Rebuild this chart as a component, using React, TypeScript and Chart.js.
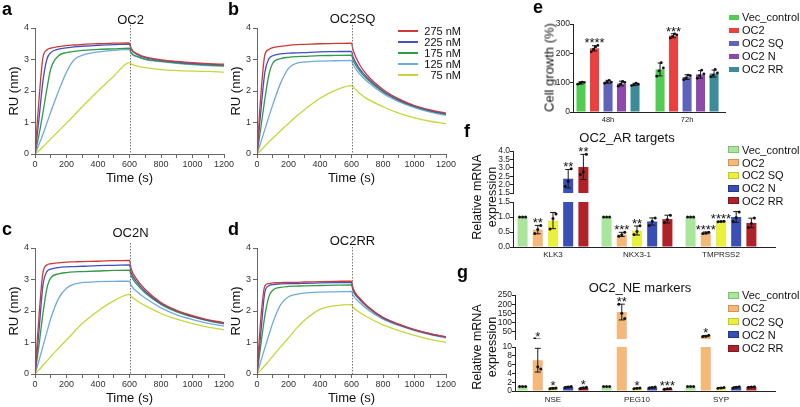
import React, { useEffect, useRef } from 'react';
import { Chart, registerables } from 'chart.js';

Chart.register(...registerables);

const SANS = "'Liberation Sans', Arial, Helvetica, sans-serif";
const NARROW = "'Liberation Sans Narrow', 'Liberation Sans', Arial, sans-serif";
Chart.defaults.font.family = SANS;
Chart.defaults.color = '#222';

// ================= a–d : SPR sensorgrams =================
const sprTimes = [0, 25, 50, 75, 100, 150, 200, 250, 300, 400, 500, 600, 610, 650, 700, 800, 900, 1000, 1100, 1200];
const sprConcs = ['275 nM', '225 nM', '175 nM', '125 nM', '75 nM'];
const sprColors = ['#cf3a36', '#4150c4', '#2f9b46', '#72a9de', '#c6d63c'];
const sprTitles = ['OC2', 'OC2SQ', 'OC2N', 'OC2RR'];
const sprXLabelled = [0, 200, 400, 600, 800, 1000, 1200];
const sprYTicks = [0, 1, 2, 3, 4];
const sprInjectionEnd = 600;

const oc2_275 = [0, 1.7, 3.05, 3.3, 3.36, 3.41, 3.44, 3.46, 3.48, 3.5, 3.52, 3.53, 3.36, 3.18, 3.08, 2.99, 2.94, 2.9, 2.87, 2.85];
const oc2_225 = [0, 1.1, 2.3, 3.0, 3.22, 3.33, 3.37, 3.4, 3.42, 3.45, 3.47, 3.49, 3.33, 3.16, 3.06, 2.97, 2.92, 2.88, 2.85, 2.83];
const oc2_175 = [0, 0.6, 1.3, 2.05, 2.7, 3.12, 3.22, 3.26, 3.29, 3.32, 3.34, 3.36, 3.22, 3.1, 3.01, 2.94, 2.89, 2.85, 2.82, 2.8];
const oc2_125 = [0, 0.3, 0.62, 0.98, 1.33, 2.0, 2.6, 3.0, 3.13, 3.24, 3.29, 3.32, 3.2, 3.08, 3.0, 2.93, 2.88, 2.84, 2.81, 2.79];
const oc2_75 = [0, 0.1, 0.22, 0.35, 0.48, 0.73, 0.98, 1.24, 1.5, 2.0, 2.47, 2.9, 2.86, 2.79, 2.74, 2.68, 2.65, 2.63, 2.62, 2.6];

const sq_275 = [0, 1.9, 3.15, 3.32, 3.38, 3.42, 3.45, 3.47, 3.48, 3.5, 3.51, 3.52, 3.3, 2.85, 2.5, 2.05, 1.75, 1.54, 1.4, 1.3];
const sq_225 = [0, 1.4, 2.6, 3.02, 3.12, 3.18, 3.2, 3.21, 3.22, 3.24, 3.25, 3.26, 3.08, 2.72, 2.42, 2.0, 1.72, 1.52, 1.38, 1.28];
const sq_175 = [0, 0.85, 1.75, 2.5, 2.88, 3.03, 3.07, 3.09, 3.1, 3.12, 3.13, 3.14, 2.98, 2.65, 2.37, 1.97, 1.7, 1.5, 1.36, 1.26];
const sq_125 = [0, 0.38, 0.78, 1.18, 1.56, 2.25, 2.72, 2.88, 2.92, 2.95, 2.96, 2.97, 2.84, 2.55, 2.3, 1.92, 1.66, 1.47, 1.33, 1.23];
const sq_75 = [0, 0.12, 0.25, 0.38, 0.5, 0.74, 0.97, 1.2, 1.4, 1.77, 2.03, 2.17, 2.13, 1.93, 1.75, 1.5, 1.3, 1.15, 1.04, 0.96];

const n_275 = [0, 1.8, 3.2, 3.46, 3.5, 3.53, 3.55, 3.56, 3.57, 3.58, 3.6, 3.61, 3.35, 2.98, 2.68, 2.27, 2.02, 1.85, 1.72, 1.63];
const n_225 = [0, 1.35, 2.8, 3.25, 3.33, 3.38, 3.4, 3.41, 3.42, 3.44, 3.45, 3.46, 3.23, 2.9, 2.62, 2.24, 2.0, 1.83, 1.7, 1.61];
const n_175 = [0, 0.9, 1.9, 2.7, 3.05, 3.18, 3.22, 3.24, 3.25, 3.27, 3.29, 3.3, 3.12, 2.83, 2.57, 2.21, 1.97, 1.81, 1.69, 1.59];
const n_125 = [0, 0.42, 0.87, 1.32, 1.76, 2.4, 2.72, 2.85, 2.9, 2.93, 2.94, 2.95, 2.82, 2.6, 2.41, 2.1, 1.88, 1.73, 1.61, 1.52];
const n_75 = [0, 0.13, 0.27, 0.41, 0.55, 0.82, 1.08, 1.35, 1.6, 2.0, 2.32, 2.53, 2.47, 2.32, 2.17, 1.92, 1.74, 1.6, 1.49, 1.4];

const rr_275 = [0, 1.8, 2.8, 2.87, 2.89, 2.9, 2.91, 2.91, 2.92, 2.93, 2.94, 2.95, 2.72, 2.42, 2.16, 1.8, 1.58, 1.41, 1.28, 1.18];
const rr_225 = [0, 1.35, 2.6, 2.8, 2.84, 2.86, 2.87, 2.87, 2.88, 2.89, 2.9, 2.91, 2.68, 2.39, 2.14, 1.78, 1.57, 1.4, 1.27, 1.17];
const rr_175 = [0, 0.95, 1.85, 2.45, 2.66, 2.75, 2.78, 2.79, 2.8, 2.81, 2.82, 2.83, 2.64, 2.37, 2.13, 1.78, 1.57, 1.4, 1.27, 1.17];
const rr_125 = [0, 0.42, 0.83, 1.23, 1.62, 2.2, 2.45, 2.53, 2.57, 2.6, 2.61, 2.62, 2.5, 2.28, 2.06, 1.74, 1.54, 1.38, 1.25, 1.15];
const rr_75 = [0, 0.13, 0.27, 0.41, 0.56, 0.86, 1.15, 1.45, 1.7, 2.05, 2.17, 2.2, 2.12, 1.96, 1.81, 1.56, 1.38, 1.23, 1.1, 1.0];

const sprPanels = [
  [oc2_275, oc2_225, oc2_175, oc2_125, oc2_75],
  [sq_275, sq_225, sq_175, sq_125, sq_75],
  [n_275, n_225, n_175, n_125, n_75],
  [rr_275, rr_225, rr_175, rr_125, rr_75],
];

// ================= e : cell growth =================
const growthGroups = ['48h', '72h'];
const growthSeries = ['Vec_control', 'OC2', 'OC2 SQ', 'OC2 N', 'OC2 RR'];
const growthColors = ['#52cc52', '#e8413f', '#5d62bb', '#8e4aa8', '#3b8c97'];
const growthMeans = [[99, 145], [217, 260], [103, 119], [97, 128], [94, 131]];
const growthSD = [[4, 22], [9, 7], [5, 8], [8, 13], [4, 12]];
const growthReps = [
  [[95, 98, 102, 101], [122, 140, 168, 150]],
  [[205, 214, 222, 227], [252, 258, 266, 263]],
  [[98, 103, 108, 102], [110, 116, 126, 124]],
  [[88, 95, 104, 101], [115, 124, 143, 130]],
  [[90, 93, 98, 95], [120, 126, 145, 133]],
];
const growthSig = [['', ''], ['****', '***'], ['', ''], ['', ''], ['', '']];
const growthYTicks = [0, 100, 200, 300];

// ================= f : AR targets =================
const arTargets = ['KLK3', 'NKX3-1', 'TMPRSS2'];
const barSeries = ['Vec_control', 'OC2', 'OC2 SQ', 'OC2 N', 'OC2 RR'];
const barColors = ['#a9e59a', '#f4b878', '#e9f03e', '#3a4fb5', '#b0222a'];
const barBorders = ['#7fc06e', '#d8924c', '#c2c928', '#27378a', '#86161c'];
const arMeans = [[1, 1, 1], [0.58, 0.42, 0.47], [0.88, 0.55, 0.85], [2.35, 0.85, 1.0], [3.05, 0.93, 0.8]];
const arSD = [[0, 0, 0], [0.14, 0.07, 0.03], [0.27, 0.15, 0.01], [0.55, 0.12, 0.18], [0.75, 0.13, 0.16]];
const arReps = [
  [[1, 1, 1], [1, 1, 1], [1, 1, 1]],
  [[0.45, 0.58, 0.72], [0.36, 0.41, 0.49], [0.45, 0.47, 0.49]],
  [[0.6, 0.95, 1.1], [0.42, 0.52, 0.71], [0.84, 0.85, 0.86]],
  [[1.9, 2.2, 2.95], [0.72, 0.86, 0.97], [0.85, 0.98, 1.17]],
  [[2.6, 2.75, 3.8], [0.82, 0.92, 1.06], [0.65, 0.78, 0.97]],
];
const arSig = [['', '', ''], ['**', '***', '****'], ['', '**', '****'], ['**', '', ''], ['**', '', '']];
const arUpperTicks = [1.5, 2.0, 2.5, 3.0, 3.5, 4.0];
const arLowerTicks = [0, 0.5, 1.0, 1.5];

// ================= g : NE markers =================
const neMarkers = ['NSE', 'PEG10', 'SYP'];
const neMeans = [[1, 1, 1], [7.0, 157, 26], [0.6, 0.6, 0.7], [0.9, 0.8, 0.85], [0.7, 0.5, 0.9]];
const neSD = [[0, 0, 0], [2.7, 43, 3.5], [0.15, 0.1, 0.1], [0.15, 0.1, 0.12], [0.15, 0.08, 0.05]];
const neReps = [
  [[1, 1, 1], [1, 1, 1], [1, 1, 1]],
  [[11.5, 5.5, 5.0], [200, 150, 122], [23, 25, 30]],
  [[0.5, 0.6, 0.7], [0.5, 0.6, 0.7], [0.6, 0.7, 0.8]],
  [[0.8, 0.9, 1.05], [0.7, 0.8, 0.9], [0.7, 0.85, 0.95]],
  [[0.55, 0.7, 0.85], [0.42, 0.5, 0.57], [0.85, 0.9, 0.95]],
];
const neSig = [['', '', ''], ['*', '**', '*'], ['*', '*', ''], ['', '', ''], ['*', '***', '']];
const neUpperTicks = [50, 100, 150, 200, 250];
const neLowerTicks = [0, 2, 4, 6, 8, 10];

// ================= plugins =================
const sprDecor = (title: string, titleOff: number, lineOff: number) => ({
  id: 'sprDecor',
  afterDatasetsDraw(chart: any) {
    const { ctx, chartArea: a } = chart;
    const px = Math.round(chart.scales.x.getPixelForValue(sprInjectionEnd)) + 0.5;
    ctx.save();
    ctx.strokeStyle = '#777';
    ctx.lineWidth = 1;
    ctx.setLineDash([1.5, 1.5]);
    ctx.beginPath();
    ctx.moveTo(px, a.top - lineOff);
    ctx.lineTo(px, a.bottom);
    ctx.stroke();
    ctx.setLineDash([]);
    ctx.fillStyle = '#111';
    ctx.font = `13px ${SANS}`;
    ctx.textAlign = 'center';
    ctx.textBaseline = 'alphabetic';
    ctx.fillText(title, px, a.top - titleOff);
    ctx.restore();
  },
});

const errPlugin = (o: any) => ({
  id: 'errdots',
  afterDatasetsDraw(chart: any) {
    const { ctx, chartArea: a } = chart;
    const ys = chart.scales.y;
    const lo = ys.min;
    const hi = ys.max;
    ctx.save();
    ctx.beginPath();
    ctx.rect(a.left - 3, a.top - 2, a.right - a.left + 6, a.bottom - a.top + 2);
    ctx.clip();
    chart.data.datasets.forEach((_ds: any, i: number) => {
      const meta = chart.getDatasetMeta(i);
      meta.data.forEach((el: any, j: number) => {
        const m = o.means[i][j];
        const s = o.sd[i][j];
        const x = el.x;
        ctx.strokeStyle = '#1a1a1a';
        ctx.lineWidth = 1;
        if (s > 0) {
          const y1 = ys.getPixelForValue(m + s);
          const y2 = ys.getPixelForValue(m - s);
          ctx.beginPath();
          ctx.moveTo(x, y1);
          ctx.lineTo(x, y2);
          ctx.moveTo(x - o.capW / 2, y1);
          ctx.lineTo(x + o.capW / 2, y1);
          ctx.moveTo(x - o.capW / 2, y2);
          ctx.lineTo(x + o.capW / 2, y2);
          ctx.stroke();
        }
        const r = o.reps[i][j];
        ctx.fillStyle = '#111';
        r.forEach((v: number, k: number) => {
          if (v < lo || v > hi) return;
          const dx = (k - (r.length - 1) / 2) * o.dotGap;
          ctx.beginPath();
          ctx.arc(x + dx, ys.getPixelForValue(v), o.dotR, 0, Math.PI * 2);
          ctx.fill();
        });
      });
    });
    ctx.restore();
    ctx.save();
    ctx.fillStyle = '#111';
    ctx.font = `13px ${SANS}`;
    ctx.textAlign = 'center';
    ctx.textBaseline = 'alphabetic';
    o.sig.forEach((row: string[], i: number) =>
      row.forEach((t: string, j: number) => {
        if (!t) return;
        const top = Math.max(o.means[i][j] + o.sd[i][j], ...o.reps[i][j]);
        if (top < o.starLo || top >= o.starHi) return;
        const el = chart.getDatasetMeta(i).data[j];
        ctx.fillText(t, el.x, ys.getPixelForValue(top) + 2);
      })
    );
    ctx.restore();
  },
});

// ================= configs =================
function sprConfig(k: number, titleOff: number, lineOff: number): any {
  const axisColor = '#666';
  return {
    type: 'line',
    data: {
      datasets: sprPanels[k].map((vals, i) => ({
        label: sprConcs[i],
        data: sprTimes.map((t, n) => ({ x: t, y: vals[n] })),
        borderColor: sprColors[i],
        borderWidth: 1.3,
        pointRadius: 0,
        cubicInterpolationMode: 'monotone',
        fill: false,
      })),
    },
    options: {
      responsive: false,
      animation: false,
      devicePixelRatio: 1,
      layout: { padding: { top: 28, right: 12, bottom: 0, left: 0 }, autoPadding: false },
      plugins: { legend: { display: false }, tooltip: { enabled: false } },
      scales: {
        x: {
          type: 'linear',
          min: 0,
          max: 1200,
          ticks: {
            stepSize: 100,
            autoSkip: false,
            maxRotation: 0,
            padding: 1,
            color: '#333',
            font: { family: NARROW, size: 9 },
            callback: (v: number) => (sprXLabelled.includes(v) ? String(v) : ''),
          },
          grid: { drawOnChartArea: false, tickLength: 4, color: axisColor },
          border: { color: axisColor },
          title: { display: true, text: 'Time (s)', color: '#111', font: { family: SANS, size: 13 }, padding: { top: 0, bottom: 2 } },
          afterFit: (s: any) => { s.height = 34; },
        },
        y: {
          min: 0,
          max: 4,
          afterBuildTicks: (s: any) => { s.ticks = sprYTicks.map((v) => ({ value: v })); },
          ticks: { padding: 2, autoSkip: false, color: '#333', font: { family: NARROW, size: 9 } },
          grid: { drawOnChartArea: false, tickLength: 4, color: axisColor },
          border: { color: axisColor },
          title: { display: true, text: 'RU (nm)', color: '#111', font: { family: SANS, size: 13 }, padding: { top: 7, bottom: 0 } },
          afterFit: (s: any) => { s.width = 35; },
        },
      },
    },
    plugins: [sprDecor(sprTitles[k], titleOff, lineOff)],
  };
}

function groupedConfig(o: any): any {
  return {
    type: 'bar',
    data: {
      datasets: o.series.map((name: string, i: number) => ({
        label: name,
        data: o.means[i].map((v: number, j: number) => ({ x: j, y: v })),
        backgroundColor: o.colors[i],
        borderWidth: 0,
        clip: 0,
        categoryPercentage: o.catPct,
        barPercentage: o.barPct,
      })),
    },
    options: {
      responsive: false,
      animation: false,
      devicePixelRatio: 1,
      layout: { padding: o.pad, autoPadding: false },
      plugins: { legend: { display: false }, tooltip: { enabled: false } },
      scales: {
        x: {
          type: 'linear',
          display: o.showX,
          min: o.xMin,
          max: o.xMax,
          offset: false,
          afterBuildTicks: (s: any) => { s.ticks = o.cats.map((_: string, i: number) => ({ value: i })); },
          ticks: {
            autoSkip: false,
            maxRotation: 0,
            padding: o.xPad,
            font: { size: o.xFont },
            color: '#222',
            callback: (v: number) => o.cats[Math.round(v)] ?? '',
          },
          grid: { display: false, drawTicks: false, offset: false },
          border: { color: '#222' },
          afterFit: (s: any) => { s.height = o.xH; },
        },
        y: {
          min: o.range[0],
          max: o.range[1],
          afterBuildTicks: (s: any) => { s.ticks = o.ticks.map((v: number) => ({ value: v })); },
          ticks: { padding: o.yPad, autoSkip: false, font: { size: o.yFont }, color: '#222', callback: o.fmt },
          grid: { drawOnChartArea: false, tickLength: 3, color: '#222' },
          border: { color: '#222' },
          afterFit: (s: any) => { s.width = o.yW; },
        },
      },
    },
    plugins: [
      errPlugin({ means: o.means, sd: o.sd, reps: o.reps, sig: o.sig, starLo: o.starLo, starHi: o.starHi, capW: o.capW, dotR: o.dotR, dotGap: o.dotGap }),
    ],
  };
}

const fmt1 = (v: number) => v.toFixed(1);
const fmt0 = (v: number) => String(v);

const segBase = { series: barSeries, colors: barColors, catPct: 0.905, barPct: 0.66, xFont: 8, yFont: 8.5, yPad: 0, capW: 6, dotR: 1.5, dotGap: 3 };

// ================= components =================
function ChartBox({ left, top, width, height, make }: { left: number; top: number; width: number; height: number; make: () => any }) {
  const ref = useRef<HTMLCanvasElement>(null);
  useEffect(() => {
    const c = new Chart(ref.current as HTMLCanvasElement, make());
    return () => c.destroy();
  }, []);
  return (
    <canvas
      ref={ref}
      width={width}
      height={height}
      style={{ position: 'absolute', left, top, width, height }}
    />
  );
}

function Letter({ ch, left, baseline }: { ch: string; left: number; baseline: number }) {
  return (
    <div style={{ position: 'absolute', left, top: baseline - 15.2, fontSize: 18, lineHeight: '18px', fontWeight: 700, color: '#000' }}>{ch}</div>
  );
}

function Txt({ text, cx, baseline, size }: { text: string; cx: number; baseline: number; size: number }) {
  return (
    <div style={{ position: 'absolute', left: cx - 100, width: 200, top: baseline - size * 0.846, textAlign: 'center', fontSize: size, lineHeight: `${size}px`, color: '#111', whiteSpace: 'nowrap' }}>{text}</div>
  );
}

function VTitle({ lines, cx, cy, size = 12.5 }: { lines: string[]; cx: number; cy: number; size?: number }) {
  const w = 130;
  const h = lines.length * 15;
  return (
    <div style={{ position: 'absolute', left: cx - w / 2, top: cy - h / 2, width: w, height: h, transform: 'rotate(-90deg)', textAlign: 'center', fontSize: size, lineHeight: '15px', color: '#111', whiteSpace: 'nowrap' }}>
      {lines.map((l) => (<div key={l}>{l}</div>))}
    </div>
  );
}

function BarLegend({ left, top, rowH, names, colors, borders }: { left: number; top: number; rowH: number; names: string[]; colors: string[]; borders?: string[] }) {
  return (
    <div style={{ position: 'absolute', left, top }}>
      {names.map((n, i) => (
        <div key={n} style={{ display: 'flex', alignItems: 'center', height: rowH, fontSize: 11, color: '#111', whiteSpace: 'nowrap' }}>
          <span style={{ display: 'inline-block', width: borders ? 9 : 10, height: 5, background: colors[i], border: borders ? `1px solid ${borders[i]}` : 'none', marginRight: 3 }} />
          {n}
        </div>
      ))}
    </div>
  );
}

function LineLegend({ left, top, rowH }: { left: number; top: number; rowH: number }) {
  return (
    <div style={{ position: 'absolute', left, top }}>
      {sprConcs.map((n, i) => (
        <div key={n} style={{ display: 'flex', alignItems: 'center', height: rowH, fontSize: 11, color: '#111' }}>
          <span style={{ display: 'inline-block', width: 20, height: 2, background: sprColors[i] }} />
          <span style={{ display: 'inline-block', width: 43, textAlign: 'right', whiteSpace: 'nowrap' }}>{n}</span>
        </div>
      ))}
    </div>
  );
}

export default function App() {
  return (
    <div style={{ position: 'fixed', left: 0, top: 0, width: 800, height: 407, overflow: 'hidden', background: '#fff', fontFamily: SANS }}>
      {/* a–d */}
      <ChartBox left={0} top={0} width={236} height={188} make={() => sprConfig(0, 4.5, 3)} />
      <ChartBox left={222} top={0} width={236} height={188} make={() => sprConfig(1, 4.7, 3)} />
      <ChartBox left={0} top={220} width={236} height={188} make={() => sprConfig(2, 11, 5)} />
      <ChartBox left={222} top={220} width={236} height={188} make={() => sprConfig(3, 3, 1)} />
      <LineLegend left={398} top={25} rowH={11.2} />

      {/* e */}
      <ChartBox left={530} top={0} width={200} height={130} make={() => groupedConfig({
        series: growthSeries, colors: growthColors, cats: growthGroups, means: growthMeans, sd: growthSD, reps: growthReps, sig: growthSig,
        range: [0, 300], ticks: growthYTicks, fmt: fmt0, showX: true, pad: { top: 24, right: 5, bottom: 0, left: 0 },
        yW: 43, xH: 18, xPad: 3, xFont: 7.5, yFont: 8.5, yPad: 0, xMin: -0.443, xMax: 1.48, catPct: 0.854, barPct: 0.67,
        starLo: -Infinity, starHi: Infinity, capW: 5, dotR: 1.4, dotGap: 2.2,
      })} />
      <VTitle lines={['Cell growth (%)']} cx={549} cy={67.5} size={13} />
      <BarLegend left={729} top={10.8} rowH={13} names={growthSeries} colors={growthColors} />

      {/* f */}
      <ChartBox left={460} top={128} width={320} height={75} make={() => groupedConfig({
        ...segBase, cats: arTargets, means: arMeans, sd: arSD, reps: arReps, sig: arSig, range: [1.5, 4], ticks: arUpperTicks, fmt: fmt1,
        showX: false, pad: { top: 23, right: 5, bottom: 10, left: 0 }, yW: 53, xH: 0, xPad: 3, xMin: -0.476, xMax: 2.643, starLo: 1.5, starHi: Infinity,
      })} />
      <ChartBox left={460} top={190} width={320} height={76} make={() => groupedConfig({
        ...segBase, cats: arTargets, means: arMeans, sd: arSD, reps: arReps, sig: arSig, range: [0, 1.5], ticks: arLowerTicks, fmt: fmt1,
        showX: true, pad: { top: 12, right: 5, bottom: 0, left: 0 }, yW: 53, xH: 19, xPad: 3, xMin: -0.476, xMax: 2.643, starLo: -Infinity, starHi: 1.5,
      })} />
      <Txt text="OC2_AR targets" cx={627} baseline={142} size={13} />
      <VTitle lines={['Relative mRNA', 'expression']} cx={484.5} cy={197} />
      <BarLegend left={728} top={143.6} rowH={12.7} names={barSeries} colors={barColors} borders={barBorders} />

      {/* g */}
      <ChartBox left={460} top={272} width={320} height={77} make={() => groupedConfig({
        ...segBase, cats: neMarkers, means: neMeans, sd: neSD, reps: neReps, sig: neSig, range: [10, 250], ticks: neUpperTicks, fmt: fmt0,
        showX: false, pad: { top: 23, right: 5, bottom: 10, left: 0 }, yW: 55, xH: 0, xPad: 4, xMin: -0.452, xMax: 2.643, starLo: 10, starHi: Infinity,
      })} />
      <ChartBox left={460} top={327} width={320} height={80} make={() => groupedConfig({
        ...segBase, cats: neMarkers, means: neMeans, sd: neSD, reps: neReps, sig: neSig, range: [0, 10], ticks: neLowerTicks, fmt: fmt0,
        showX: true, pad: { top: 20, right: 5, bottom: 0, left: 0 }, yW: 55, xH: 16, xPad: 4, xMin: -0.452, xMax: 2.643, starLo: -Infinity, starHi: 10,
      })} />
      <Txt text="OC2_NE markers" cx={640} baseline={291.5} size={13} />
      <VTitle lines={['Relative mRNA', 'expression']} cx={484.5} cy={347} />
      <BarLegend left={728} top={288.4} rowH={13.3} names={barSeries} colors={barColors} borders={barBorders} />

      {/* panel letters */}
      <Letter ch="a" left={2} baseline={15} />
      <Letter ch="b" left={228} baseline={15} />
      <Letter ch="c" left={2} baseline={235} />
      <Letter ch="d" left={228} baseline={235} />
      <Letter ch="e" left={533} baseline={13} />
      <Letter ch="f" left={464} baseline={137} />
      <Letter ch="g" left={457} baseline={278} />
    </div>
  );
}
